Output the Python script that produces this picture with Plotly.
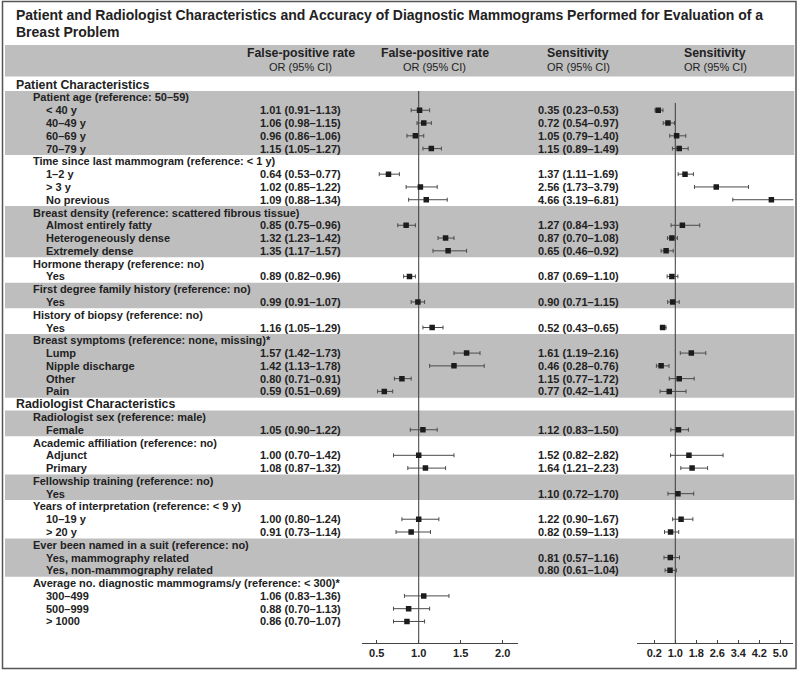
import plotly.graph_objects as go

# ---------------- data ----------------
row_labels = [
    "Patient Characteristics",
    "Patient age (reference: 50–59)", "< 40 y", "40–49 y", "60–69 y", "70–79 y",
    "Time since last mammogram (reference: < 1 y)", "1–2 y", "> 3 y", "No previous",
    "Breast density (reference: scattered fibrous tissue)", "Almost entirely fatty",
    "Heterogeneously dense", "Extremely dense",
    "Hormone therapy (reference: no)", "Yes",
    "First degree family history (reference: no)", "Yes",
    "History of biopsy (reference: no)", "Yes",
    "Breast symptoms (reference: none, missing)*", "Lump", "Nipple discharge", "Other", "Pain",
    "Radiologist Characteristics",
    "Radiologist sex (reference: male)", "Female",
    "Academic affiliation (reference: no)", "Adjunct", "Primary",
    "Fellowship training (reference: no)", "Yes",
    "Years of interpretation (reference: < 9 y)", "10–19 y", "> 20 y",
    "Ever been named in a suit (reference: no)", "Yes, mammography related",
    "Yes, non-mammography related",
    "Average no. diagnostic mammograms/y (reference: < 300)*", "300–499", "500–999", "> 1000",
]
# 0 = section, 1 = variable, 2 = category
row_levels = [0, 1, 2, 2, 2, 2, 1, 2, 2, 2, 1, 2, 2, 2, 1, 2, 1, 2, 1, 2, 1, 2, 2, 2, 2,
              0, 1, 2, 1, 2, 2, 1, 2, 1, 2, 2, 1, 2, 2, 1, 2, 2, 2]

N = None
fp_or = [N, N, 1.01, 1.06, 0.96, 1.15, N, 0.64, 1.02, 1.09, N, 0.85, 1.32, 1.35, N, 0.89,
         N, 0.99, N, 1.16, N, 1.57, 1.42, 0.80, 0.59, N, N, 1.05, N, 1.00, 1.08, N, N,
         N, 1.00, 0.91, N, N, N, N, 1.06, 0.88, 0.86]
fp_lo = [N, N, 0.91, 0.98, 0.86, 1.05, N, 0.53, 0.85, 0.88, N, 0.75, 1.23, 1.17, N, 0.82,
         N, 0.91, N, 1.05, N, 1.42, 1.13, 0.71, 0.51, N, N, 0.90, N, 0.70, 0.87, N, N,
         N, 0.80, 0.73, N, N, N, N, 0.83, 0.70, 0.70]
fp_hi = [N, N, 1.13, 1.15, 1.06, 1.27, N, 0.77, 1.22, 1.34, N, 0.96, 1.42, 1.57, N, 0.96,
         N, 1.07, N, 1.29, N, 1.73, 1.78, 0.91, 0.69, N, N, 1.22, N, 1.42, 1.32, N, N,
         N, 1.24, 1.14, N, N, N, N, 1.36, 1.13, 1.07]

sens_or = [N, N, 0.35, 0.72, 1.05, 1.15, N, 1.37, 2.56, 4.66, N, 1.27, 0.87, 0.65, N, 0.87,
           N, 0.90, N, 0.52, N, 1.61, 0.46, 1.15, 0.77, N, N, 1.12, N, 1.52, 1.64, N, 1.10,
           N, 1.22, 0.82, N, 0.81, 0.80, N, N, N, N]
sens_lo = [N, N, 0.23, 0.54, 0.79, 0.89, N, 1.11, 1.73, 3.19, N, 0.84, 0.70, 0.46, N, 0.69,
           N, 0.71, N, 0.43, N, 1.19, 0.28, 0.77, 0.42, N, N, 0.83, N, 0.82, 1.21, N, 0.72,
           N, 0.90, 0.59, N, 0.57, 0.61, N, N, N, N]
sens_hi = [N, N, 0.53, 0.97, 1.40, 1.49, N, 1.69, 3.79, 6.81, N, 1.93, 1.08, 0.92, N, 1.10,
           N, 1.15, N, 0.65, N, 2.16, 0.76, 1.72, 1.41, N, N, 1.50, N, 2.82, 2.23, N, 1.70,
           N, 1.67, 1.13, N, 1.16, 1.04, N, N, N, N]

fp_ticks = [0.5, 1.0, 1.5, 2.0]
sens_ticks = [0.2, 1.0, 1.8, 2.6, 3.4, 4.2, 5.0]

title_lines = [
    "Patient and Radiologist Characteristics and Accuracy of Diagnostic Mammograms Performed for Evaluation of a",
    "Breast Problem",
]
col_heads = [("False-positive rate", "OR (95% CI)"), ("False-positive rate", "OR (95% CI)"),
             ("Sensitivity", "OR (95% CI)"), ("Sensitivity", "OR (95% CI)")]

# ---------------- layout helpers ----------------
W, H = 800, 673
ROW0, PITCH = 84.7, 12.78
FONT = "Liberation Sans, Arial, Helvetica, sans-serif"
TXT = "#222222"
GRAY = "#bebebe"


def px(p):
    return p / W


def py(p):
    return 1 - p / H


def row_py(i):
    return py(ROW0 + PITCH * i)


fig = go.Figure()


def add_forest(vals, lo, hi, axis):
    idx = [i for i, v in enumerate(vals) if v is not None]
    fig.add_trace(go.Scatter(
        x=[vals[i] for i in idx], y=idx, xaxis=axis, yaxis="y", mode="markers",
        marker=dict(symbol="square", size=5.5, color="#1c1c1c", line=dict(width=0)),
        error_x=dict(type="data", symmetric=False,
                     array=[hi[i] - vals[i] for i in idx],
                     arrayminus=[vals[i] - lo[i] for i in idx],
                     color="#4a4a4a", thickness=1, width=2),
        hoverinfo="skip", showlegend=False))


add_forest(fp_or, fp_lo, fp_hi, "x2")
add_forest(sens_or, sens_lo, sens_hi, "x3")

shapes = []
ann = []

# alternating gray bands per variable group (restart at each section)
groups = []
for i, lv in enumerate(row_levels):
    if lv == 1:
        groups.append([i, i])
    elif lv == 2:
        groups[-1][1] = i
    else:
        groups.append(None)
shade = True
for g in groups:
    if g is None:
        shade = True
        continue
    if shade:
        shapes.append(dict(type="rect", xref="paper", yref="paper", layer="below",
                           x0=px(5), x1=px(794.3), y0=row_py(g[1] + 0.5), y1=row_py(g[0] - 0.5),
                           fillcolor=GRAY, line=dict(width=0)))
    shade = not shade

# header band
shapes.append(dict(type="rect", xref="paper", yref="paper", layer="below",
                   x0=px(5), x1=px(794.3), y0=py(76.5), y1=py(45),
                   fillcolor=GRAY, line=dict(width=0)))

# reference lines at OR = 1
shapes.append(dict(type="line", xref="x2", yref="paper", layer="below", x0=1, x1=1,
                   y0=py(643), y1=py(91), line=dict(color="#3a3a3a", width=1)))
shapes.append(dict(type="line", xref="x3", yref="paper", layer="below", x0=1, x1=1,
                   y0=py(643), y1=py(103), line=dict(color="#3a3a3a", width=1)))

# outer frame
shapes.append(dict(type="rect", xref="paper", yref="paper", layer="above",
                   x0=px(2.5), x1=px(796), y0=py(668.5), y1=py(1.5),
                   fillcolor="rgba(0,0,0,0)", line=dict(color="#555555", width=1.5)))

# title
for k, t in enumerate(title_lines):
    ann.append(dict(text="<b>" + t + "</b>", xref="paper", yref="paper", x=px(14), y=py(14.5 + 17.3 * k),
                    xanchor="left", yanchor="middle", showarrow=False,
                    font=dict(family=FONT, size=14, color=TXT)))

# column headers
col_x = [300.7, 434.6, 578.3, 715]
for cx, (h1, h2) in zip(col_x, col_heads):
    ann.append(dict(text="<b>" + h1 + "</b>", xref="paper", yref="paper", x=px(cx), y=py(53.3),
                    xanchor="center", yanchor="middle", showarrow=False,
                    font=dict(family=FONT, size=12.3, color=TXT)))
    ann.append(dict(text=h2, xref="paper", yref="paper", x=px(cx), y=py(67.2),
                    xanchor="center", yanchor="middle", showarrow=False,
                    font=dict(family=FONT, size=11, color=TXT)))

# row labels
label_x = {0: 14, 1: 30.5, 2: 44}
label_size = {0: 12.3, 1: 11, 2: 11}
for i, (lab, lv) in enumerate(zip(row_labels, row_levels)):
    ann.append(dict(text="<b>" + lab + "</b>", xref="paper", yref="y", x=px(label_x[lv]), y=i,
                    xanchor="left", yanchor="middle", showarrow=False,
                    font=dict(family=FONT, size=label_size[lv], color=TXT)))


def add_values(vals, lo, hi, cx):
    for i, v in enumerate(vals):
        if v is None:
            continue
        t = f"{v:.2f} ({lo[i]:.2f}–{hi[i]:.2f})"
        ann.append(dict(text="<b>" + t + "</b>", xref="paper", yref="y", x=px(cx), y=i,
                        xanchor="center", yanchor="middle", showarrow=False,
                        font=dict(family=FONT, size=11, color=TXT)))


add_values(fp_or, fp_lo, fp_hi, 300.2)
add_values(sens_or, sens_lo, sens_hi, 578.3)

axis_common = dict(anchor="free", position=py(643), showline=True, linecolor="#444444",
                   linewidth=1, ticks="inside", ticklen=3, tickcolor="#444444", tickwidth=1,
                   showgrid=False, zeroline=False, fixedrange=True,
                   tickfont=dict(family=FONT, size=11, color=TXT, weight="bold"))

fig.update_layout(
    width=W, height=H, margin=dict(l=0, r=0, t=0, b=0),
    paper_bgcolor="white", plot_bgcolor="rgba(0,0,0,0)",
    showlegend=False,
    xaxis=dict(visible=False),
    xaxis2=dict(domain=[px(361.7), px(518.3)], range=[0.321, 2.186],
                tickvals=fp_ticks, ticktext=[f"{t:.1f}" for t in fp_ticks], **axis_common),
    xaxis3=dict(domain=[px(636.7), px(793.3)], range=[-0.470, 5.495],
                tickvals=sens_ticks, ticktext=[f"{t:.1f}" for t in sens_ticks], **axis_common),
    yaxis=dict(domain=[0, 1], range=[(H - ROW0) / PITCH, -ROW0 / PITCH], visible=False,
               anchor="x2", fixedrange=True),
    shapes=shapes, annotations=ann,
)

fig.write_html(
    "out.html",
    config={"displayModeBar": False},
    post_script="document.body.style.margin='0';document.body.style.padding='0';"
                "document.documentElement.style.overflow='hidden';",
)
